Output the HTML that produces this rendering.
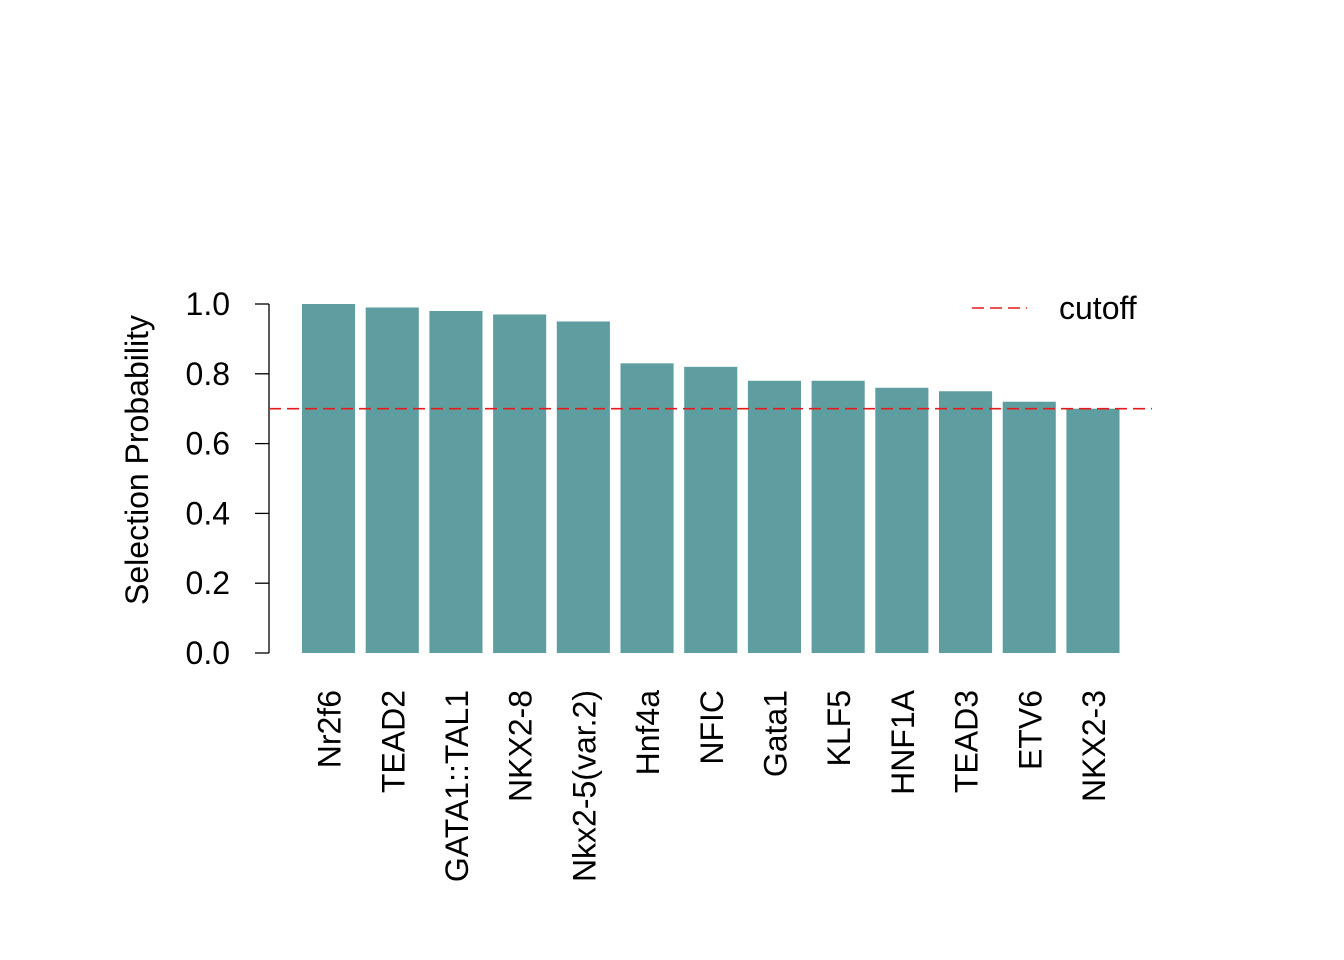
<!DOCTYPE html>
<html><head><meta charset="utf-8"><style>
html,body{margin:0;padding:0;background:#fff;}
svg{display:block;font-family:"Liberation Sans",sans-serif;}
</style></head><body>
<svg id="chart" width="1344" height="960"></svg>
<script>
const categories=["Nr2f6","TEAD2","GATA1::TAL1","NKX2-8","Nkx2-5(var.2)","Hnf4a","NFIC","Gata1","KLF5","HNF1A","TEAD3","ETV6","NKX2-3"];
const values=[1.0,0.99,0.98,0.97,0.95,0.83,0.82,0.78,0.78,0.76,0.75,0.72,0.70];
const yTicks=[0,0.2,0.4,0.6,0.8,1.0];
const yTickLabels=["0.0","0.2","0.4","0.6","0.8","1.0"];
const cutoff=[0.7];
const NS="http://www.w3.org/2000/svg";
const svg=document.getElementById('chart');
const y0=653,y1=304;
function yS(v){return y0-(y0-y1)*v;}
const step=63.7,bw=53.1,x0=302;
function xS(i){return x0+i*step;}
function mk(t,a){const e=document.createElementNS(NS,t);for(const k in a)e.setAttribute(k,a[k]);svg.appendChild(e);return e;}
const FS=32;
categories.forEach((c,i)=>{
 const r=mk('rect',{x:xS(i),y:yS(values[i]),width:bw,height:yS(0)-yS(values[i]),fill:'#5f9ea0'});
 
 
 const cx=xS(i)+bw/2;
 const t=mk('text',{x:0,y:0,'font-size':FS,'text-anchor':'end',transform:`translate(${cx+12},690) rotate(-90)`});
 t.textContent=c;
 
 
});
const ax=mk('line',{x1:269,x2:269,y1:yS(1),y2:yS(0),stroke:'#000','stroke-width':1.3});


yTicks.forEach((v,i)=>{
 const tk=mk('line',{x1:255,x2:269,y1:yS(v),y2:yS(v),stroke:'#000','stroke-width':1.3});
 
 
 const t=mk('text',{x:230,y:yS(v)+11,'font-size':FS,'text-anchor':'end'});
 t.textContent=yTickLabels[i];
 
 
});
const yt=mk('text',{x:0,y:0,'font-size':FS,'text-anchor':'middle',transform:'translate(148,460) rotate(-90)'});
yt.textContent='Selection Probability';


const cl=mk('line',{x1:269,x2:1152,y1:yS(cutoff[0]),y2:yS(cutoff[0]),stroke:'#e41a1c','stroke-width':1.6,'stroke-dasharray':'12,6'});


const ll=mk('line',{x1:972,x2:1027,y1:308,y2:308,stroke:'#e41a1c','stroke-width':1.6,'stroke-dasharray':'12,6'});


const lt=mk('text',{x:1059,y:319,'font-size':FS});
lt.textContent='cutoff';


</script>
</body></html>
